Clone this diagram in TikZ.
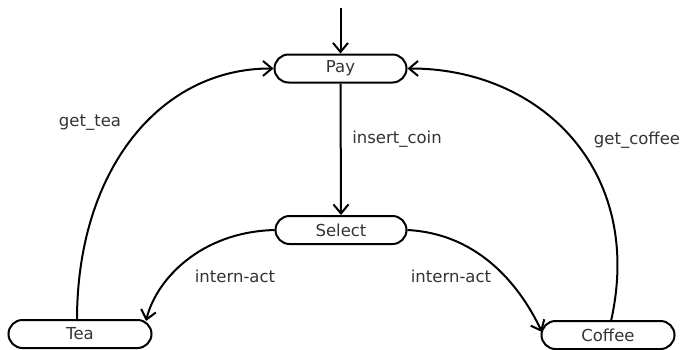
\documentclass[tikz,border=0pt]{standalone}
\usepackage{fontspec}
\setmainfont{DejaVu Sans}
\usetikzlibrary{arrows.meta}
\definecolor{labelgray}{HTML}{333333}
\begin{document}
\begin{tikzpicture}[x=1pt,y=-1pt,
  state/.style={draw=black, line width=2pt, rounded corners=14pt,
    minimum height=28pt, inner sep=0pt, text=labelgray,
    font=\fontsize{16.5}{19}\selectfont},
  trans/.style={draw=black, line width=2pt,
    -{Straight Barb[length=9pt,width=15pt,line width=2pt]}},
  lbl/.style={text=labelgray, font=\fontsize{16.5}{19}\selectfont, inner sep=0pt}]
  \useasboundingbox (0,0) rectangle (685,349);

  % states
  \node[state, minimum width=132pt] (pay)    at (340.5,68.5) {Pay};
  \node[state, minimum width=131pt] (select) at (341,230)    {Select};
  \node[state, minimum width=143pt] (tea)    at (80,334)     {Tea};
  \node[state, minimum width=133pt] (coffee) at (608,335)    {Coffee};

  % initial transition
  \coordinate (init) at (340.5,8);
  \draw[trans] (init) -- (pay.north);

  % Pay -> Select
  \draw[trans] (pay.south) -- (select.north);

  % Select -> Tea / Coffee
  \coordinate (teaIn) at (146,321);
  \coordinate (coffeeIn) at (542,332);
  \draw[trans] (select.west) .. controls (200,232) and (156,280) .. (teaIn);
  \draw[trans] (select.east) .. controls (482,234) and (522,290) .. (coffeeIn);

  % Tea / Coffee -> Pay
  \coordinate (teaOut) at (77,320);
  \coordinate (coffeeOut) at (611,321);
  \draw[trans] (teaOut) .. controls (77,170) and (160,68) .. (pay.west);
  \draw[trans] (coffeeOut) .. controls (645,170) and (540,68) .. (pay.east);

  % transition labels
  \node[lbl] (l1) at (90,123)  {get\_tea};
  \node[lbl] (l2) at (397,139) {insert\_coin};
  \node[lbl] (l3) at (637,140) {get\_coffee};
  \node[lbl] (l4) at (235,276) {intern-act};
  \node[lbl] (l5) at (451,276) {intern-act};
\end{tikzpicture}
\end{document}
